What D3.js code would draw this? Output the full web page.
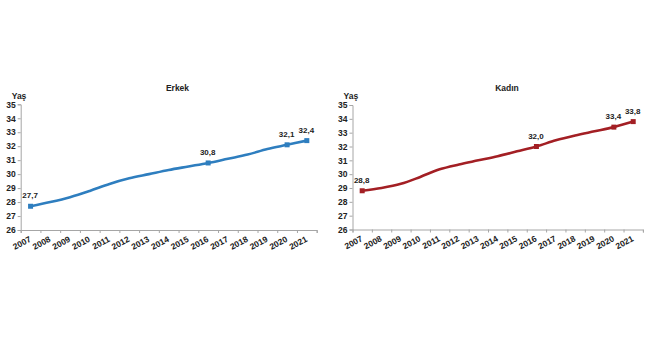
<!DOCTYPE html>
<html>
<head>
<meta charset="utf-8">
<script src="https://cdn.jsdelivr.net/npm/d3@7"></script>
<style>
  body { margin: 0; background: #fff; }
  svg { display: block; font-family: "Liberation Sans", Arial, sans-serif; }
</style>
</head>
<body>
<svg id="chart" width="650" height="360"></svg>
<script>
const years = ["2007","2008","2009","2010","2011","2012","2013","2014","2015","2016","2017","2018","2019","2020","2021"];
const erkekValues = [27.7, 28.0, 28.35, 28.8, 29.3, 29.7, 30.0, 30.3, 30.55, 30.8, 31.1, 31.4, 31.8, 32.1, 32.4];
const kadinValues = [28.8, 29.0, 29.3, 29.8, 30.35, 30.7, 31.0, 31.3, 31.65, 32.0, 32.45, 32.8, 33.1, 33.4, 33.8];
const labeledYears = ["2007", "2016", "2020", "2021"];
const yTicks = [26, 27, 28, 29, 30, 31, 32, 33, 34, 35];
const titles = ["Erkek", "Kadın"];
const yAxisTitle = "Yaş";

const svg = d3.select("#chart");

function drawPanel(cfg) {
  const g = svg.append("g");
  const x = d3.scaleBand().domain(years).range([cfg.x0, cfg.x1]).padding(0);
  const xb = d3.scaleLinear().domain([0, years.length]).range([cfg.x0, cfg.x1]);
  const y = d3.scaleLinear().domain([26, 35]).range([cfg.y0, cfg.y1]);

  // Y axis
  const ya = g.append("g").attr("transform", `translate(${cfg.x0},0)`)
    .call(d3.axisLeft(y).tickValues(yTicks).tickSize(3).tickPadding(2).tickFormat(d3.format("d")));
  ya.select(".domain").attr("stroke", "#a6a6a6");
  ya.selectAll(".tick line").attr("stroke", "#a6a6a6");
  ya.selectAll("text").attr("font-size", 8.5).attr("font-weight", "bold").attr("fill", "#222")
    .attr("font-family", "Liberation Sans, Arial, sans-serif");

  // X axis boundary ticks
  const xa = g.append("g").attr("transform", `translate(0,${cfg.y0})`)
    .call(d3.axisBottom(xb).tickValues(d3.range(0, years.length + 1)).tickSize(3).tickFormat(""));
  xa.select(".domain").attr("stroke", "#a6a6a6");
  xa.selectAll(".tick line").attr("stroke", "#a6a6a6");

  // X axis labels (rotated)
  const xl = g.append("g").attr("transform", `translate(0,${cfg.y0})`)
    .call(d3.axisBottom(x).tickSize(0).tickPadding(0));
  xl.select(".domain").remove();
  xl.selectAll("text")
    .attr("font-size", 8.5).attr("font-weight", "bold").attr("fill", "#222")
    .attr("font-family", "Liberation Sans, Arial, sans-serif")
    .attr("text-anchor", "end")
    .attr("dy", null)
    .attr("y", 0)
    .attr("transform", "translate(1,11) rotate(-28)");

  // Title
  g.append("text").attr("x", cfg.titleX).attr("y", 91).attr("text-anchor", "middle")
    .attr("font-size", 8.5).attr("font-weight", "bold").attr("fill", "#222").text(cfg.title);
  // Y title
  g.append("text").attr("x", cfg.x0 - 9).attr("y", 99).attr("text-anchor", "start")
    .attr("font-size", 8.5).attr("font-weight", "bold").attr("fill", "#222").text(yAxisTitle);

  // Line
  const line = d3.line()
    .x((d, i) => x(years[i]) + x.bandwidth() / 2)
    .y(d => y(d))
    .curve(d3.curveCatmullRom.alpha(0.5));
  g.append("path").datum(cfg.values).attr("fill", "none").attr("stroke", cfg.color)
    .attr("stroke-width", 2.6).attr("stroke-linejoin", "round").attr("d", line);

  const pts = years.map((yr, i) => ({ yr, v: cfg.values[i] })).filter(d => labeledYears.includes(d.yr));
  g.selectAll("rect.mk").data(pts).join("rect")
    .attr("x", d => x(d.yr) + x.bandwidth() / 2 - 2.5)
    .attr("y", d => y(d.v) - 2.5)
    .attr("width", 5).attr("height", 5).attr("fill", cfg.color);
  g.selectAll("text.lbl").data(pts).join("text")
    .attr("x", d => x(d.yr) + x.bandwidth() / 2 - 0.5)
    .attr("y", d => y(d.v) - 8)
    .attr("text-anchor", "middle")
    .attr("font-size", 8).attr("font-weight", "bold").attr("fill", "#222")
    .text(d => d3.format(".1f")(d.v).replace(".", ","));
}

drawPanel({ x0: 20.7, x1: 316.7, y0: 230, y1: 104.3, values: erkekValues, color: "#2e7ebf", title: titles[0], titleX: 177.5 });
drawPanel({ x0: 352.5, x1: 642.9, y0: 229.5, y1: 105, values: kadinValues, color: "#a31f24", title: titles[1], titleX: 507 });
</script>
</body>
</html>
